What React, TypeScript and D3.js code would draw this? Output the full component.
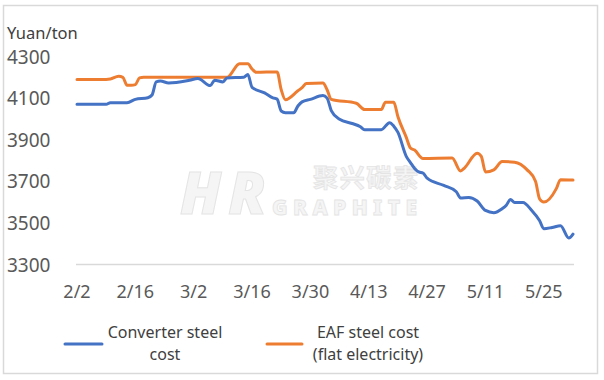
import React from "react";
import * as d3 from "d3";

const converterDates = ["2/2","2/9","2/10","2/14","2/16","2/19","2/20","2/21","2/22","2/24","3/1","3/3","3/6","3/7","3/9","3/10","3/14","3/15","3/16","3/19","3/21","3/22","3/23","3/24","3/26","3/27","3/28","3/30","4/2","4/3","4/4","4/6","4/9","4/11","4/12","4/16","4/18","4/19","4/20","4/22","4/23","4/24","4/25","4/26","4/27","5/1","5/4","5/5","5/7","5/9","5/11","5/13","5/15","5/16","5/17","5/18","5/20","5/22","5/24","5/25","5/27","5/29","5/31","6/1"];
const converterValues = [4070,4070,4078,4078,4094,4102,4115,4178,4182,4173,4186,4194,4160,4186,4178,4197,4200,4213,4152,4125,4101,4095,4038,4030,4030,4062,4082,4094,4112,4100,4040,3998,3978,3962,3948,3948,3982,3965,3935,3820,3790,3762,3745,3740,3715,3680,3650,3620,3622,3605,3560,3549,3568,3585,3613,3598,3598,3562,3510,3472,3478,3486,3427,3446];

const eafDates = ["2/2","2/9","2/10","2/12","2/13","2/14","2/15","2/16","2/17","2/18","3/10","3/13","3/15","3/16","3/17","3/22","3/23","3/24","3/27","3/28","3/29","4/2","4/3","4/4","4/10","4/12","4/16","4/17","4/19","4/20","4/22","4/23","4/24","4/26","5/3","5/5","5/6","5/9","5/10","5/11","5/13","5/15","5/18","5/21","5/23","5/24","5/25","5/28","5/29","6/1"];
const eafValues = [4190,4190,4192,4205,4200,4162,4162,4165,4197,4200,4200,4265,4265,4240,4224,4226,4140,4092,4135,4150,4170,4172,4140,4094,4075,4045,4045,4080,4080,4010,3911,3860,3850,3810,3812,3750,3765,3835,3820,3745,3755,3795,3792,3755,3700,3615,3600,3665,3708,3706];

const xTickLabels = ["2/2","2/16","3/2","3/16","3/30","4/13","4/27","5/11","5/25"];
const yTickValues = [3300, 3500, 3700, 3900, 4100, 4300];
const seriesNames = ["Converter steel|cost", "EAF steel cost|(flat electricity)"];

const parse = (s: string) => {
  const [m, d] = s.split("/").map(Number);
  return new Date(2022, m - 1, d);
};

export default function App() {
  const W = 604, H = 380;
  const x = d3.scaleTime().domain([parse("2/2"), parse("6/1")]).range([77, 573]);
  const y = d3.scaleLinear().domain([3300, 4300]).range([264.5, 56.5]);
  const line = d3.line<[Date, number]>().x(d => x(d[0])).y(d => y(d[1])).curve(d3.curveMonotoneX);
  const conv: [Date, number][] = converterDates.map((d, i) => [parse(d), converterValues[i]]);
  const eaf: [Date, number][] = eafDates.map((d, i) => [parse(d), eafValues[i]]);
  const font = "'Noto Sans', 'Open Sans', sans-serif";
  const colors = ["#4472C4", "#ED7D31"];
  const legend = [
    { x1: 65, x2: 102, cx: 165, y: 344 },
    { x1: 267, x2: 302, cx: 368, y: 344 },
  ];
  return (
    <svg width={W} height={H} style={{ position: "absolute", left: 0, top: 0, background: "#fff" }} fontFamily={font}>
      <rect x={3.5} y={5.5} width={594} height={368} fill="#fff" stroke="#d9d9d9" strokeWidth={1.5} />
      {/* watermark */}
      <g opacity={0.9}>
        <text x={180} y={214} fontSize={58} fontWeight={900} fontStyle="italic" fill="#f4f4f4" stroke="#e2e2e2" strokeWidth={1} textLength={86}>HR</text>
        <text x={313} y={187} fontSize={25} fontWeight={700} fill="#f4f4f4" stroke="#e2e2e2" strokeWidth={0.8} fontFamily="'Noto Sans CJK SC', sans-serif" textLength={105}>聚兴碳素</text>
        <text x={272} y={215} fontSize={21} fontWeight={900} fill="#f4f4f4" stroke="#e2e2e2" strokeWidth={0.8} textLength={145}>GRAPHITE</text>
      </g>
      <text x={7} y={38.5} fontSize={16.5} fill="#404040">Yuan/ton</text>
      <line x1={76} x2={574} y1={y(3300)} y2={y(3300)} stroke="#d9d9d9" strokeWidth={1.5} />
      {yTickValues.map(v => (
        <text key={v} x={7} y={y(v) + 0.5} dy="0.35em" fontSize={19} fill="#595959">{v}</text>
      ))}
      {xTickLabels.map(l => (
        <text key={l} x={x(parse(l))} y={292} dy="0.35em" fontSize={18} fill="#595959" textAnchor="middle">{l}</text>
      ))}
      <path d={line(eaf) || ""} fill="none" stroke={colors[1]} strokeWidth={3} strokeLinejoin="round" strokeLinecap="round" />
      <path d={line(conv) || ""} fill="none" stroke={colors[0]} strokeWidth={3} strokeLinejoin="round" strokeLinecap="round" />
      {seriesNames.map((n, i) => {
        const L = legend[i];
        const [a, b] = n.split("|");
        return (
          <g key={n}>
            <line x1={L.x1} x2={L.x2} y1={L.y} y2={L.y} stroke={colors[i]} strokeWidth={3} strokeLinecap="round" />
            <text x={L.cx} y={332} dy="0.35em" fontSize={16} fill="#404040" textAnchor="middle">{a}</text>
            <text x={L.cx} y={354} dy="0.35em" fontSize={16} fill="#404040" textAnchor="middle">{b}</text>
          </g>
        );
      })}
    </svg>
  );
}
